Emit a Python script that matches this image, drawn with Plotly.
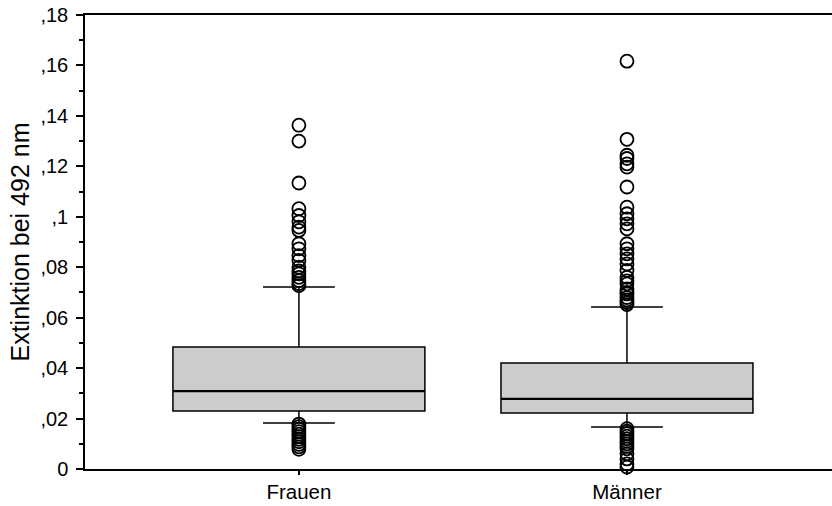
import plotly.graph_objects as go

# ---- data ----
groups = ["Frauen", "Männer"]
group_pos = [0, 1]
q1 = [0.0230, 0.0222]
median = [0.0309, 0.0278]
q3 = [0.0484, 0.0420]
lower_whisker = [0.0182, 0.0167]
upper_whisker = [0.0722, 0.0642]

outliers_frauen = [0.1363, 0.1300, 0.1134, 0.1032, 0.1005, 0.0980, 0.0959, 0.0946,
                   0.0893, 0.0873, 0.0846, 0.0827, 0.0800, 0.0785, 0.0774, 0.0760,
                   0.0747, 0.0735, 0.0727,
                   0.0178, 0.0168, 0.0158, 0.0148, 0.0138, 0.0128, 0.0118,
                   0.0108, 0.0098, 0.0088, 0.0078]
outliers_maenner = [0.1617, 0.1307, 0.1244, 0.1231, 0.1210, 0.1197, 0.1118, 0.1038,
                    0.1012, 0.0992, 0.0972, 0.0952, 0.0893, 0.0873, 0.0853, 0.0833,
                    0.0813, 0.0787, 0.0760, 0.0746, 0.0734, 0.0714, 0.0700, 0.0694,
                    0.0680, 0.0670, 0.0660, 0.0652,
                    0.0160, 0.0150, 0.0140, 0.0130, 0.0120, 0.0110, 0.0100,
                    0.0090, 0.0080, 0.0060, 0.0040, 0.0020, 0.0008]

ytick_vals = [0, 0.02, 0.04, 0.06, 0.08, 0.10, 0.12, 0.14, 0.16, 0.18]
ytick_text = ["0", ",02", ",04", ",06", ",08", ",1", ",12", ",14", ",16", ",18"]

FONT = "Liberation Sans, Arial, sans-serif"

fig = go.Figure()

for i in range(len(groups)):
    fig.add_trace(go.Box(
        x=[group_pos[i]], q1=[q1[i]], median=[median[i]], q3=[q3[i]],
        lowerfence=[lower_whisker[i]], upperfence=[upper_whisker[i]],
        boxpoints=False, width=0.768, whiskerwidth=0.285,
        fillcolor="#cccccc", line=dict(color="black", width=1.5),
        showlegend=False, hoverinfo="skip",
    ))

# thicker median lines
for i in range(len(groups)):
    fig.add_trace(go.Scatter(
        x=[group_pos[i] - 0.384, group_pos[i] + 0.384], y=[median[i], median[i]],
        mode="lines", line=dict(color="black", width=2.2),
        showlegend=False, hoverinfo="skip",
    ))

for pos, vals in zip(group_pos, [outliers_frauen, outliers_maenner]):
    fig.add_trace(go.Scatter(
        x=[pos] * len(vals), y=vals, mode="markers",
        marker=dict(symbol="circle-open", size=13, color="black",
                    line=dict(color="black", width=1.8)),
        cliponaxis=False, showlegend=False, hoverinfo="skip",
    ))

fig.update_layout(
    width=832, height=506,
    margin=dict(l=85, r=0, t=15, b=37),
    paper_bgcolor="white", plot_bgcolor="white",
    font=dict(family=FONT, color="black"),
)

fig.update_xaxes(
    range=[-0.652, 1.625], tickvals=group_pos, ticktext=groups,
    showgrid=False, zeroline=False,
    showline=True, linecolor="black", linewidth=1.5, mirror=True,
    ticks="outside", ticklen=4, tickcolor="black", tickwidth=1.5,
    tickfont=dict(size=20.5, family=FONT, color="black"),
)
fig.update_yaxes(
    range=[0, 0.18], tickvals=ytick_vals, ticktext=ytick_text,
    showgrid=False, zeroline=False,
    showline=True, linecolor="black", linewidth=1.5,
    ticks="outside", ticklen=7, tickcolor="black", tickwidth=1.5,
    ticklabelstandoff=4,
    minor=dict(tickvals=[0.01, 0.03, 0.05, 0.07, 0.09, 0.11, 0.13, 0.15, 0.17],
               ticks="outside", ticklen=4, tickcolor="black", tickwidth=1.5),
    tickfont=dict(size=20, family=FONT, color="black"),
    title=dict(text="Extinktion bei 492 nm", font=dict(size=25, family=FONT, color="black"),
               standoff=4),
)

fig.write_html("out.html")
